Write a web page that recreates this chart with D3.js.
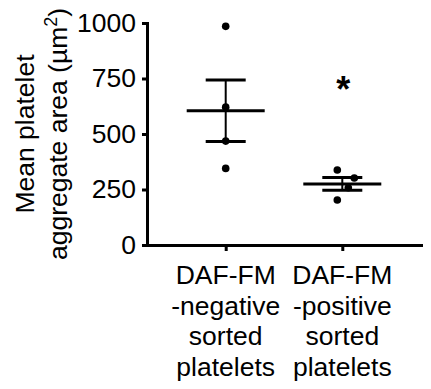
<!DOCTYPE html>
<html>
<head>
<meta charset="utf-8">
<script src="https://cdn.jsdelivr.net/npm/d3@7/dist/d3.min.js"></script>
<style>
  body { margin: 0; background: #fff; }
  text { font-family: "Liberation Sans", Arial, Helvetica, sans-serif; fill: #000; }
</style>
</head>
<body>
<div id="chart"></div>
<script>
// data
const groups = ["neg", "pos"];
const groupLabels = [
    ["DAF-FM", "-negative", "sorted", "platelets"],
    ["DAF-FM", "-positive", "sorted", "platelets"]
];
const negValues = [985, 621, 468, 345];
const posValues = [338, 302, 258, 203];
const yTicks = [0, 250, 500, 750, 1000];
const significance = ["", "*"];

const width = 431, height = 389;
const margin = { top: 23, right: 10, bottom: 144, left: 147 };
const fontSize = 26.5;

const svg = d3.select("#chart").append("svg")
    .attr("width", width)
    .attr("height", height);

const x = d3.scalePoint()
    .domain(groups)
    .range([margin.left, width - margin.right])
    .padding(0.675);

const y = d3.scaleLinear()
    .domain([0, 1000])
    .range([height - margin.bottom, margin.top]);

const series = [negValues, posValues];
// small horizontal spread so overlapping dots stay visible
const jitter = [[0, 0, 0, 0], [-5, 12, 6, -5]];

// y axis
const yAxis = svg.append("g")
    .attr("transform", "translate(" + margin.left + ",0)")
    .call(d3.axisLeft(y).tickValues(yTicks).tickFormat(d3.format("d"))
        .tickSize(5).tickSizeOuter(0).tickPadding(6));
yAxis.select(".domain").attr("stroke-width", 3).attr("stroke-linecap", "square");
yAxis.selectAll(".tick line").attr("stroke-width", 3);
yAxis.selectAll(".tick text").style("font-size", fontSize + "px");

// x axis
const xAxis = svg.append("g")
    .attr("transform", "translate(0," + y(0) + ")")
    .call(d3.axisBottom(x).tickSize(6).tickSizeOuter(0).tickFormat(""));
xAxis.select(".domain").attr("stroke-width", 3).attr("stroke-linecap", "square");
xAxis.selectAll(".tick line").attr("stroke-width", 3);

// x labels, several lines each
groups.forEach((g, i) => {
    const t = svg.append("text")
        .attr("text-anchor", "middle")
        .style("font-size", fontSize + "px");
    groupLabels[i].forEach((line, j) => {
        t.append("tspan")
            .attr("x", x(g))
            .attr("y", 284 + j * 30.5)
            .text(line);
    });
});

// y title
const title = svg.append("text")
    .attr("transform", "translate(0," + ((y(0) + y(1000)) / 2) + ") rotate(-90)")
    .attr("text-anchor", "middle")
    .style("font-size", fontSize + "px");
title.append("tspan").attr("x", 0).attr("y", 34).text("Mean platelet");
title.append("tspan").attr("x", 0).attr("y", 67).text("aggregate area (\u00b5m");
title.append("tspan").attr("dy", -10).style("font-size", "18px").text("2");
title.append("tspan").attr("dy", 10).text(")");

// points, mean and SEM
groups.forEach((g, i) => {
    const vals = series[i];
    const cx = x(g);
    const mean = d3.mean(vals);
    const sem = d3.deviation(vals) / Math.sqrt(vals.length);

    svg.append("g").selectAll("circle")
        .data(vals)
        .enter().append("circle")
        .attr("cx", (d, k) => cx + jitter[i][k])
        .attr("cy", d => y(d))
        .attr("r", 3.8)
        .attr("fill", "#000");

    const bars = svg.append("g").attr("stroke", "#000").attr("stroke-width", 3);
    bars.append("line")
        .attr("x1", cx - 39).attr("x2", cx + 39)
        .attr("y1", y(mean)).attr("y2", y(mean));
    bars.append("line")
        .attr("x1", cx).attr("x2", cx)
        .attr("y1", y(mean + sem)).attr("y2", y(mean - sem))
        .attr("stroke-width", 2);
    [mean + sem, mean - sem].forEach(v => {
        bars.append("line")
            .attr("x1", cx - 20).attr("x2", cx + 20)
            .attr("y1", y(v)).attr("y2", y(v));
    });

    if (significance[i]) {
        svg.append("text")
            .attr("x", cx + 1)
            .attr("y", y(740) + 21)
            .attr("text-anchor", "middle")
            .style("font-size", "36px")
            .style("font-weight", "bold")
            .text(significance[i]);
    }
});
</script>
</body>
</html>
